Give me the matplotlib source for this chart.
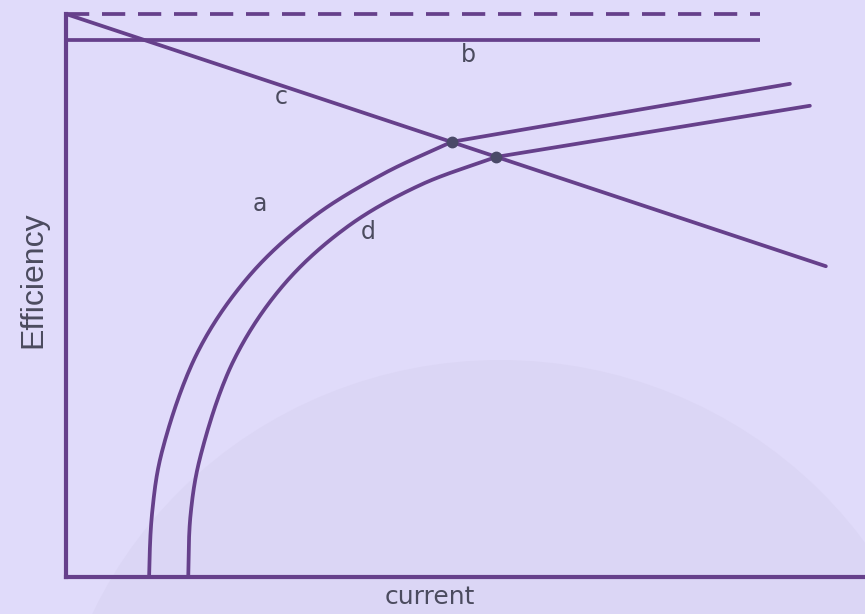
import numpy as np
import matplotlib
matplotlib.use('Agg')
import matplotlib.pyplot as plt
from matplotlib.patches import Ellipse

BG = '#e0dbfa'
PURPLE = '#66408b'
TEXT = '#4b4b5e'
DOT = '#4a4a68'

# curve a (efficiency vs current); bends up to the dot, then straight
a_x = [10.4, 10.8, 12.0, 16.5, 23.0, 30.9, 39.7, 48.3, 90.6]
a_y = [0.0, 11.7, 22.2, 40.0, 53.6, 63.9, 71.6, 77.3, 87.6]

# curve d
d_x = [15.3, 15.6, 16.8, 21.0, 27.3, 35.3, 44.3, 53.8, 93.1]
d_y = [0.0, 11.2, 21.3, 38.5, 52.0, 62.3, 69.6, 74.6, 83.7]

# straight lines
b_x = [0.0, 86.9]
b_y = [95.4, 95.4]
top_x = [0.0, 86.9]
top_y = [100.0, 100.0]
c_x = [0.0, 95.1]
c_y = [100.0, 55.2]

# intersection points of c with a and d
dot_x = [48.3, 53.8]
dot_y = [77.3, 74.6]

labels = ['a', 'b', 'c', 'd']
label_x = [24.3, 50.3, 27.0, 37.8]
label_y = [66.3, 92.7, 85.3, 61.3]

SCALE = np.array([7.99, 5.63])  # px per data unit, only for spacing the spline


def smooth(xs, ys, n=30):
    # centripetal catmull-rom through the points (drawing only)
    p = np.column_stack([xs, ys]) * SCALE
    start = p[0] - np.array([0.0, np.linalg.norm(p[1] - p[0])])  # rises vertically off the axis
    p = np.vstack([start, p, 2 * p[-1] - p[-2]])
    out = []
    for i in range(1, len(p) - 2):
        P0, P1, P2, P3 = p[i - 1], p[i], p[i + 1], p[i + 2]
        t0 = 0.0
        t1 = t0 + np.linalg.norm(P1 - P0) ** 0.5
        t2 = t1 + np.linalg.norm(P2 - P1) ** 0.5
        t3 = t2 + np.linalg.norm(P3 - P2) ** 0.5
        t = np.linspace(t1, t2, n, endpoint=False)[:, None]
        A1 = (t1 - t) / (t1 - t0) * P0 + (t - t0) / (t1 - t0) * P1
        A2 = (t2 - t) / (t2 - t1) * P1 + (t - t1) / (t2 - t1) * P2
        A3 = (t3 - t) / (t3 - t2) * P2 + (t - t2) / (t3 - t2) * P3
        B1 = (t2 - t) / (t2 - t0) * A1 + (t - t0) / (t2 - t0) * A2
        B2 = (t3 - t) / (t3 - t1) * A2 + (t - t1) / (t3 - t1) * A3
        out.append((t2 - t) / (t2 - t1) * B1 + (t - t1) / (t2 - t1) * B2)
    out.append(p[-2][None])
    out = np.vstack(out) / SCALE
    return out[:, 0], out[:, 1]


def knee_curve(xs, ys):
    k = len(xs) - 2  # last point before the straight tail
    sx, sy = smooth(xs[:k + 1], ys[:k + 1])
    return np.append(sx, xs[-1]), np.append(sy, ys[-1])


fig = plt.figure(figsize=(8.65, 6.14), dpi=100, facecolor=BG)

# faint globe in the background
bg = fig.add_axes([0, 0, 1, 1], zorder=0)
bg.set_xlim(0, 865)
bg.set_ylim(614, 0)
bg.axis('off')
bg.add_patch(Ellipse((500, 800), 900, 880, facecolor='#d8d2f1', edgecolor='none', alpha=0.55))

ax = fig.add_axes([66 / 865, 37 / 614, 799 / 865, 563 / 614], zorder=1)
ax.patch.set_visible(False)
ax.set_xlim(0, 100)
ax.set_ylim(0, 100)
for s in ['top', 'right']:
    ax.spines[s].set_visible(False)
for s in ['left', 'bottom']:
    ax.spines[s].set_color(PURPLE)
    ax.spines[s].set_linewidth(3)
ax.set_xticks([])
ax.set_yticks([])

lw = 2.7
ax.plot(top_x, top_y, color=PURPLE, lw=lw, dashes=(6.2, 3.4), clip_on=False)
ax.plot(b_x, b_y, color=PURPLE, lw=lw, solid_capstyle='butt')
ax.plot(c_x, c_y, color=PURPLE, lw=lw, solid_capstyle='round', clip_on=False)
xs, ys = knee_curve(a_x, a_y)
ax.plot(xs, ys, color=PURPLE, lw=lw, solid_capstyle='round')
xs, ys = knee_curve(d_x, d_y)
ax.plot(xs, ys, color=PURPLE, lw=lw, solid_capstyle='round')
ax.plot(dot_x, dot_y, 'o', color=DOT, ms=7.5, zorder=5)

for lab, x, y in zip(labels, label_x, label_y):
    ax.text(x, y, lab, color=TEXT, fontsize=17, ha='center', va='center',
            family='DejaVu Sans')

fig.text(33 / 865, 1 - 280 / 614, 'Efficiency', rotation=90, color=TEXT,
         fontsize=23, ha='center', va='center', family='Liberation Sans')
fig.text(430 / 865, 1 - 597 / 614, 'current', color=TEXT, fontsize=18,
         ha='center', va='center', family='DejaVu Sans')

fig.savefig('out.png', dpi=100, facecolor=BG)
